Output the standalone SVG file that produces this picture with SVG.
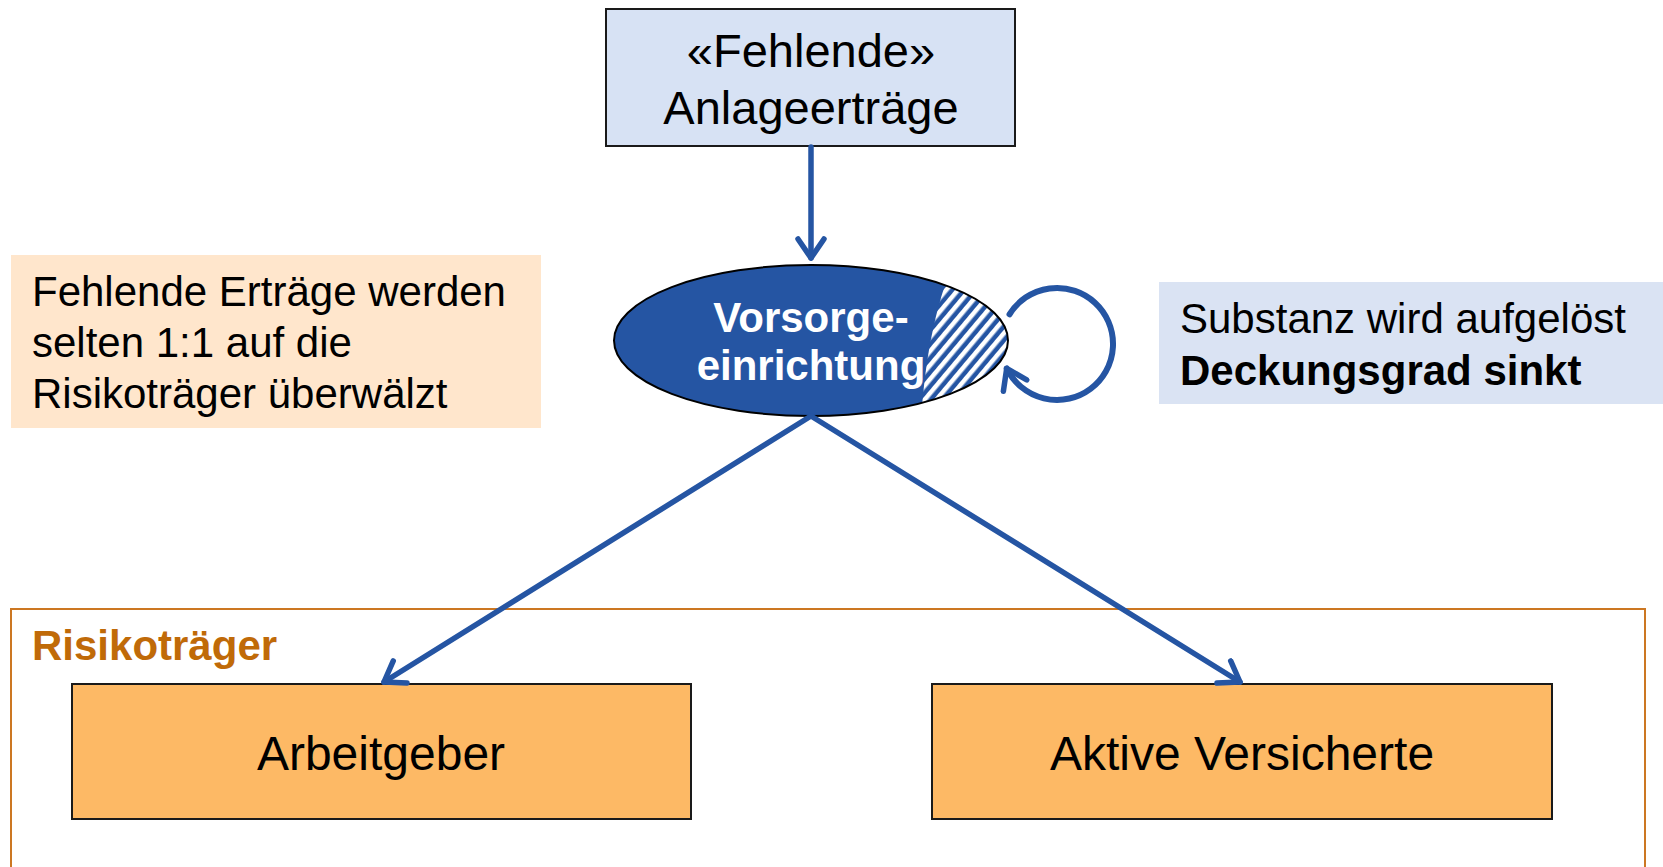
<svg xmlns="http://www.w3.org/2000/svg" width="1663" height="867" viewBox="0 0 1663 867">
<style>
.t{font-family:"Liberation Sans",Arial,sans-serif;fill:#000}
.b{font-weight:bold}
.conn{fill:none;stroke:#2555A3;stroke-width:5.5;stroke-linecap:round}
.loop{stroke-width:6}
.box{stroke:#1a1a1a;stroke-width:2}
</style>
<defs>
<marker id="ah" viewBox="-26 -16 30 32" markerWidth="30" markerHeight="32" refX="0" refY="0" orient="auto" markerUnits="userSpaceOnUse">
<path d="M -19 -13 L 0 0 L -19 13" fill="none" stroke="#2555A3" stroke-width="5.5" stroke-linecap="round" stroke-linejoin="round"/>
</marker>
<pattern id="hatch" width="9" height="9" patternUnits="userSpaceOnUse" patternTransform="rotate(40)">
<rect width="9" height="9" fill="#2555A3"/>
<rect width="4.5" height="9" fill="#ffffff"/>
</pattern>
<clipPath id="ellClip"><ellipse cx="811" cy="340.5" rx="197" ry="75.5"/></clipPath>
</defs>

<g id="frame-risikotraeger">
<rect x="11" y="609" width="1634" height="300" fill="none" stroke="#CC7722" stroke-width="2"/>
<text class="t b" x="32" y="660" font-size="42" style="fill:#C06A08">Risikoträger</text>
</g>

<g id="node-anlageertraege">
<rect class="box" x="606" y="9" width="409" height="137" fill="#D7E2F4"/>
<text class="t" x="811" y="67" font-size="47" text-anchor="middle">«Fehlende»</text>
<text class="t" x="811" y="124" font-size="47" text-anchor="middle">Anlageerträge</text>
</g>

<g id="note-left">
<rect x="11" y="255" width="530" height="173" fill="#FFE6CC"/>
<text class="t" x="32" y="306" font-size="42">Fehlende Erträge werden</text>
<text class="t" x="32" y="357" font-size="42">selten 1:1 auf die</text>
<text class="t" x="32" y="408" font-size="42">Risikoträger überwälzt</text>
</g>

<g id="note-right">
<rect x="1159" y="282" width="504" height="122" fill="#DAE3F3"/>
<text class="t" x="1180" y="333" font-size="42">Substanz wird aufgelöst</text>
<text class="t b" x="1180" y="385" font-size="42">Deckungsgrad sinkt</text>
</g>

<g id="node-vorsorgeeinrichtung">
<ellipse cx="811" cy="340.5" rx="197" ry="75.5" fill="#2555A3"/>
<path d="M 946 282 Q 926 340 921 420 L 1012 420 L 1012 262 Z" fill="url(#hatch)" clip-path="url(#ellClip)"/>
<ellipse cx="811" cy="340.5" rx="197" ry="75.5" fill="none" stroke="#000" stroke-width="2"/>
<text class="t b" x="811" y="332" font-size="42" text-anchor="middle" style="fill:#fff">Vorsorge-</text>
<text class="t b" x="811" y="380" font-size="42" text-anchor="middle" style="fill:#fff">einrichtung</text>
</g>

<g id="node-arbeitgeber">
<rect class="box" x="72" y="684" width="619" height="135" fill="#FDB965"/>
<text class="t" x="381" y="770" font-size="48" text-anchor="middle">Arbeitgeber</text>
</g>

<g id="node-aktive-versicherte">
<rect class="box" x="932" y="684" width="620" height="135" fill="#FDB965"/>
<text class="t" x="1242" y="770" font-size="48" text-anchor="middle">Aktive Versicherte</text>
</g>

<g id="connectors">
<line class="conn" x1="811" y1="147" x2="811" y2="258" marker-end="url(#ah)"/>
<line class="conn" x1="811" y1="416" x2="384" y2="682" marker-end="url(#ah)"/>
<line class="conn" x1="811" y1="416" x2="1240" y2="682" marker-end="url(#ah)"/>
<path class="conn loop" d="M 1009.5 314.3 A 56 56 0 1 1 1006.7 368.5" marker-end="url(#ah)"/>
</g>
</svg>
